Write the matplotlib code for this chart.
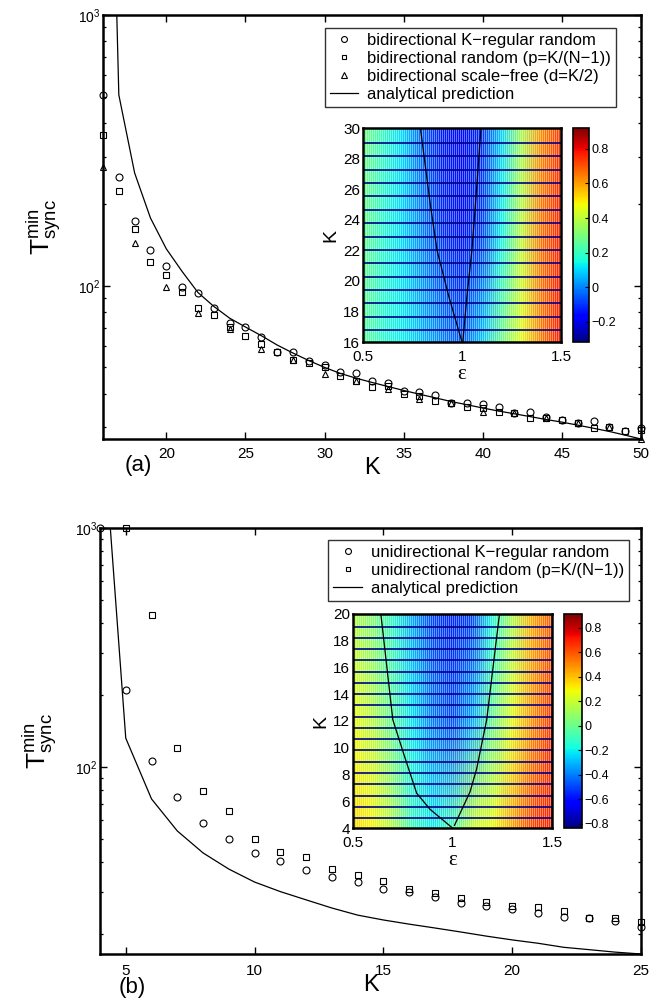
import numpy as np
import matplotlib
matplotlib.use("Agg")
import matplotlib.pyplot as plt

plt.rcParams["font.family"] = ["Liberation Sans", "DejaVu Sans"]
plt.rcParams["mathtext.fontset"] = "custom"
plt.rcParams["mathtext.rm"] = "Liberation Sans"
plt.rcParams["mathtext.it"] = "Liberation Sans:italic"
plt.rcParams["mathtext.default"] = "regular"

# ---- panel (a): bidirectional networks ----
K_a = list(range(16, 51))
t_kreg_a = [507, 252, 174, 136, 118.5, 99, 94, 83, 73, 70.6, 64.8, 57.1, 57, 52.9, 51.2,
            48.2, 47.7, 44.6, 43.8, 41, 40.6, 39.6, 37, 37, 36.7, 35.8, 34.0, 34.3, 32.8,
            32, 31.2, 31.8, 30.2, 29.2, 29.9]
t_rand_a = [361, 224, 162, 123, 110, 95, 83, 78, 70.6, 65.4, 61.1, 57, 53.3, 52, 50.3,
            46.5, 44.6, 42.4, 42.7, 40, 39.3, 37.6, 37, 35.8, 35.5, 34.3, 34.0, 32.6, 32.6,
            32, 31.2, 29.9, 30.2, 29.2, 29.4]
K_sf_a = list(range(16, 51, 2))
t_sf_a = [275, 144, 99, 79.5, 69.4, 58.5, 53.3, 47.4, 44.6, 41.7, 38.3, 37, 34.3, 34.0,
          32.6, 31.2, 30.2, 27.2]
t_theory_a = [1e5, 507, 261, 178, 137, 113, 94.5, 84, 76, 70.5, 65.5, 60.5, 56.5, 53, 50,
              47.5, 45.6, 44, 42.5, 41.1, 39.8, 38.6, 37.4, 36.4, 35.4, 34.5, 33.7, 32.9,
              32.1, 31.4, 30.6, 29.8, 29.0, 28.1, 27.2]

# inset (a): correlation map over (epsilon, K)
eps_grid = [0.5, 0.6, 0.7, 0.8, 0.9, 1.0, 1.1, 1.2, 1.3, 1.4, 1.5]
map_K_a = [16, 23, 30]
map_a = [[0.26, 0.18, 0.13, 0.07, 0.00, -0.06, 0.08, 0.28, 0.46, 0.64, 0.78],
         [0.28, 0.18, 0.10, 0.00, -0.10, -0.14, -0.08, 0.14, 0.40, 0.65, 0.77],
         [0.30, 0.20, 0.10, -0.05, -0.13, -0.15, -0.11, 0.09, 0.36, 0.62, 0.74]]
bound_K_a = [16, 19, 22, 25, 30]
bound_left_a = [1.0, 0.933, 0.874, 0.840, 0.79]
bound_right_a = [1.004, 1.025, 1.05, 1.068, 1.096]

# ---- panel (b): unidirectional networks ----
K_b = list(range(4, 26))
t_kreg_b = [1000, 210, 106, 74.9, 58.3, 50, 43.7, 40.5, 37, 34.6, 33.0, 30.9, 30.1, 28.6,
            27.0, 26.2, 25.4, 24.5, 23.6, 23.3, 22.6, 21.4]
K_rand_b = list(range(5, 26))
t_rand_b = [1000, 432, 120, 79.3, 65.5, 50, 44.1, 42, 37.4, 35.3, 33.3, 30.9, 29.8, 28.3,
            27.2, 26.2, 26, 25, 23.3, 23.3, 22.5]
t_theory_b = [3860, 132, 73.5, 54, 43.7, 37.4, 33.0, 30.1, 27.8, 25.7, 24.0, 22.9, 22.0,
              21.2, 20.4, 19.6, 18.9, 18.3, 17.6, 17.2, 16.8, 16.5]

map_K_b = [4, 12, 20]
map_b = [[0.36, 0.30, 0.15, -0.10, -0.20, -0.08, 0.20, 0.28, 0.45, 0.63, 0.70],
         [0.28, 0.17, -0.02, -0.22, -0.40, -0.48, -0.32, 0.00, 0.26, 0.48, 0.66],
         [0.15, 0.05, -0.13, -0.33, -0.50, -0.56, -0.50, -0.17, 0.14, 0.43, 0.60]]
bound_K_left_b = [4, 5.4, 6.6, 9.3, 12.1, 20]
bound_left_b = [1.0, 0.887, 0.82, 0.76, 0.70, 0.64]
bound_K_right_b = [4.2, 6.7, 8.4, 12.1, 20]
bound_right_b = [1.01, 1.088, 1.121, 1.172, 1.236]

W, H = 663, 1006
fig = plt.figure(figsize=(W / 100, H / 100), dpi=100)


def px_axes(x0, y0, x1, y1):
    return fig.add_axes([x0 / W, 1 - y1 / H, (x1 - x0) / W, (y1 - y0) / H])


def style_main(ax, xlim, ylim, xticks, xpad):
    ax.set_yscale("log")
    ax.set_xlim(*xlim)
    ax.set_ylim(*ylim)
    ax.set_xticks(xticks)
    ax.tick_params(which="both", direction="in", top=True, right=True)
    ax.tick_params(which="major", length=5, width=1)
    ax.tick_params(which="minor", length=2.5, width=0.9)
    ax.tick_params(axis="x", labelsize=11, pad=xpad)
    ax.tick_params(axis="y", labelsize=10, pad=2)
    for sp in ax.spines.values():
        sp.set_linewidth(1.8)
    ax.set_xlabel("K", fontsize=17, labelpad=-3)
    ax.set_ylabel(r"$T^{min}_{sync}$", fontsize=19)
    ax.yaxis.set_label_coords(-0.075, 0.5)


def draw_inset(ax, cax, Kgrid, Z, vmin, vmax, Kmin, Kmax, yticks, cticks, nbands, wpx):
    mesh = ax.pcolormesh(eps_grid, Kgrid, np.array(Z), shading="gouraud",
                         cmap="jet", vmin=vmin, vmax=vmax)
    # fine white striping (one pixel every two) and dark row separators of the raster
    stripes = 0.5 + (0.5 + 2 * np.arange(wpx // 2)) / wpx
    ax.vlines(stripes, Kmin, Kmax, colors="white", lw=0.72, alpha=0.42, snap=True)
    ax.hlines(np.linspace(Kmin, Kmax, nbands + 1)[1:-1] - 0.1, 0.5, 1.5,
              colors="#000085", lw=1.2)
    ax.set_xlim(0.5, 1.5)
    ax.set_ylim(Kmin, Kmax)
    ax.set_xticks([0.5, 1, 1.5])
    ax.set_xticklabels(["0.5", "1", "1.5"])
    ax.set_yticks(yticks)
    ax.tick_params(direction="in", length=0, labelsize=11)
    ax.tick_params(axis="x", pad=5.5)
    ax.tick_params(axis="y", pad=2)
    for sp in ax.spines.values():
        sp.set_linewidth(1.8)
    ax.set_xlabel("ε", fontsize=15, family="Liberation Serif", labelpad=1)
    ax.set_ylabel("K", fontsize=14, labelpad=3)
    cb = fig.colorbar(mesh, cax=cax)
    cb.set_ticks(cticks)
    cb.set_ticklabels([("%g" % t).replace("-", "\u2212") for t in cticks])
    cb.ax.tick_params(direction="in", length=3, labelsize=9, pad=2)
    cb.outline.set_linewidth(1.2)
    return mesh


def add_legend(ax, anchor):
    leg = ax.legend(loc="upper right", bbox_to_anchor=anchor, borderaxespad=0,
                    fontsize=12, frameon=True, fancybox=False, edgecolor="k",
                    handlelength=1.7, handletextpad=0.55, labelspacing=0.18,
                    borderpad=0.3, markerscale=0.85)
    leg.get_frame().set_linewidth(1.0)
    return leg


# ---------- panel (a) ----------
ax1 = px_axes(103, 15, 641, 439)
ax1.plot(K_a, t_kreg_a, "o", mfc="none", mec="k", ms=5, mew=0.8, clip_on=False,
         label="bidirectional K\u2212regular random")
ax1.plot(K_a, t_rand_a, "s", mfc="none", mec="k", ms=3.9, mew=0.8, clip_on=False,
         label="bidirectional random (p=K/(N\u22121))")
ax1.plot(K_sf_a, t_sf_a, "^", mfc="none", mec="k", ms=4.8, mew=0.8, clip_on=False,
         label="bidirectional scale\u2212free (d=K/2)")
ax1.plot(K_a, t_theory_a, "-", color="k", lw=0.9, label="analytical prediction")
style_main(ax1, (16, 50), (27.2, 1000), [20, 25, 30, 35, 40, 45, 50], 6)
add_legend(ax1, (0.9535, 0.969))
fig.text(138 / W, 1 - 466 / H, "(a)", fontsize=16, ha="center", va="center")

in1 = px_axes(363, 128, 561, 342)
cb1 = px_axes(573, 128, 589, 342)
draw_inset(in1, cb1, map_K_a, map_a, -0.316, 0.92, 16, 30,
           list(range(16, 31, 2)), [-0.2, 0, 0.2, 0.4, 0.6, 0.8], 16, 198)
in1.plot(bound_left_a, bound_K_a, color="k", lw=0.9)
in1.plot(bound_right_a, bound_K_a, color="k", lw=0.9)

# ---------- panel (b) ----------
ax2 = px_axes(100, 528, 641, 954)
ax2.plot(K_b, t_kreg_b, "o", mfc="none", mec="k", ms=5, mew=0.8, clip_on=False,
         label="unidirectional K\u2212regular random")
ax2.plot(K_rand_b, t_rand_b, "s", mfc="none", mec="k", ms=3.9, mew=0.8, clip_on=False,
         label="unidirectional random (p=K/(N\u22121))")
ax2.plot(K_b, t_theory_b, "-", color="k", lw=0.9, label="analytical prediction")
style_main(ax2, (4, 25), (16.5, 1000), [5, 10, 15, 20, 25], 7)
add_legend(ax2, (0.978, 0.972))
fig.text(132 / W, 1 - 987 / H, "(b)", fontsize=16, ha="center", va="center")

in2 = px_axes(353, 614, 552, 828)
cb2 = px_axes(564, 614, 582, 828)
draw_inset(in2, cb2, map_K_b, map_b, -0.833, 0.914, 4, 20,
           list(range(4, 21, 2)), [-0.8, -0.6, -0.4, -0.2, 0, 0.2, 0.4, 0.6, 0.8], 19, 199)
in2.plot(bound_left_b, bound_K_left_b, color="k", lw=0.9)
in2.plot(bound_right_b, bound_K_right_b, color="k", lw=0.9)

fig.savefig("out.png", dpi=100)
